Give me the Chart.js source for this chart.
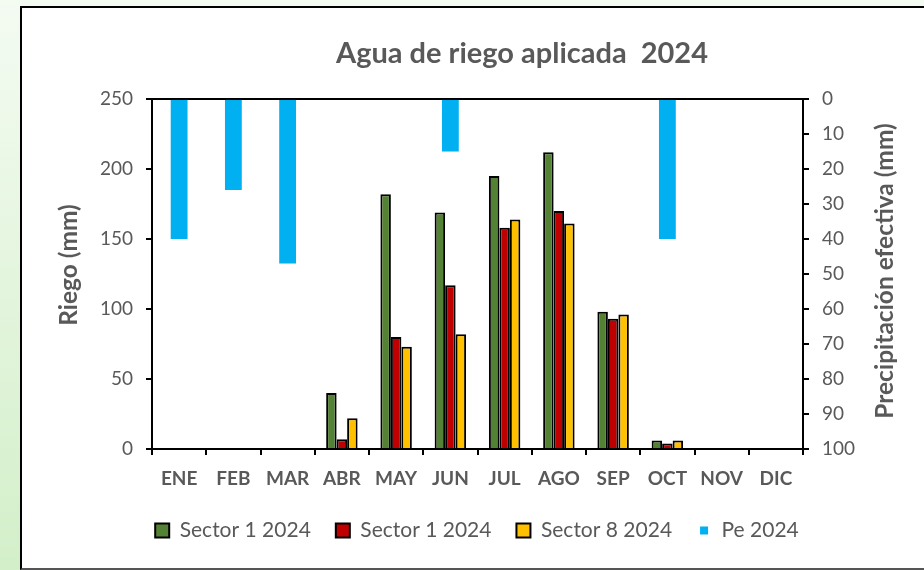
<!DOCTYPE html>
<html>
<head>
<meta charset="utf-8">
<title>Agua de riego aplicada 2024</title>
<script src="https://cdn.jsdelivr.net/npm/chart.js@4.4.1/dist/chart.umd.min.js"></script>
<style>
  html, body { margin: 0; padding: 0; }
  body {
    width: 924px; height: 570px; overflow: hidden; position: relative;
    background: linear-gradient(to bottom, #f4fbf2 0%, #d3efc9 100%);
  }
  #frame {
    position: absolute; left: 20px; top: 6px; width: 920px; height: 560px;
    background: #fff;
    border-left: 2px solid #000; border-top: 2px solid #000; border-bottom: 2px solid #555;
  }
  #wrap { position: absolute; left: 0; top: 0; width: 924px; height: 570px; }
</style>
</head>
<body>
<div id="frame"></div>
<div id="wrap"><canvas id="riego"></canvas></div>
<script>
// meses y valores (mm)
var meses = ['ENE', 'FEB', 'MAR', 'ABR', 'MAY', 'JUN', 'JUL', 'AGO', 'SEP', 'OCT', 'NOV', 'DIC'];
var sector1 = [null, null, null, 40, 182, 169, 195, 212, 98, 6, null, null];
var sector1b = [null, null, null, 7, 80, 117, 158, 170, 93, 4, null, null];
var sector8 = [null, null, null, 22, 73, 82, 164, 161, 96, 6, null, null];
var pe = [40, 26, 47, null, null, 15, null, null, null, 40, null, null];

var ticksRiego = [0, 50, 100, 150, 200, 250];
var ticksPe = [0, 10, 20, 30, 40, 50, 60, 70, 80, 90, 100];

var gris = '#595959';
var fuente = 'Lato';

// titulo, titulos de ejes y linea superior del area
var textos = {
  id: 'textos',
  afterDraw: function(chart) {
    var ctx = chart.ctx;
    var area = chart.chartArea;
    ctx.save();
    ctx.strokeStyle = '#000';
    ctx.lineWidth = 2;
    ctx.beginPath();
    ctx.moveTo(area.left, area.top);
    ctx.lineTo(area.right, area.top);
    ctx.stroke();

    ctx.fillStyle = gris;
    ctx.textAlign = 'center';
    ctx.textBaseline = 'alphabetic';
    ctx.font = 'bold 29px ' + fuente;
    ctx.fillText('Agua de riego aplicada  2024', 522, 63);

    ctx.textBaseline = 'middle';
    ctx.font = 'bold 24.5px ' + fuente;
    ctx.save();
    ctx.translate(69, 265);
    ctx.rotate(-Math.PI / 2);
    ctx.fillText('Riego (mm)', 0, 0);
    ctx.restore();

    ctx.save();
    ctx.translate(885, 271);
    ctx.rotate(-Math.PI / 2);
    ctx.fillText('Precipitación efectiva (mm)', 0, 0);
    ctx.restore();
    ctx.restore();
  }
};

var ejeGrid = {
  drawOnChartArea: false,
  drawTicks: true,
  tickLength: 6,
  color: '#000',
  lineWidth: 2
};

var canvas = document.getElementById('riego');
var chart = new Chart(canvas, {
  type: 'bar',
  data: {
    labels: meses,
    datasets: [
      {
        label: 'Sector 1 2024',
        data: sector1,
        backgroundColor: '#548235',
        borderColor: '#000',
        borderWidth: 2,
        categoryPercentage: 0.58,
        barPercentage: 1,
        yAxisID: 'y'
      },
      {
        label: 'Sector 1 2024',
        data: sector1b,
        backgroundColor: '#C00000',
        borderColor: '#000',
        borderWidth: 2,
        categoryPercentage: 0.58,
        barPercentage: 1,
        yAxisID: 'y'
      },
      {
        label: 'Sector 8 2024',
        data: sector8,
        backgroundColor: '#FFC000',
        borderColor: '#000',
        borderWidth: 2,
        categoryPercentage: 0.58,
        barPercentage: 1,
        yAxisID: 'y'
      },
      {
        label: 'Pe 2024',
        data: pe,
        backgroundColor: '#00B0F0',
        borderWidth: 0,
        grouped: false,
        categoryPercentage: 1,
        barPercentage: 0.31,
        yAxisID: 'y2'
      }
    ]
  },
  options: {
    responsive: true,
    maintainAspectRatio: false,
    animation: false,
    layout: {
      padding: { top: 99, left: 30, right: 0, bottom: 19 }
    },
    scales: {
      x: {
        grid: ejeGrid,
        border: { display: true, color: '#000', width: 2 },
        ticks: {
          color: gris,
          font: { family: fuente, size: 19, weight: 'bold' },
          padding: 12,
          autoSkip: false,
          maxRotation: 0
        },
        afterFit: function(scale) { scale.height = 46; }
      },
      y: {
        position: 'left',
        min: 0,
        max: 250,
        afterBuildTicks: function(scale) {
          scale.ticks = ticksRiego.map(function(v) { return { value: v }; });
        },
        grid: ejeGrid,
        border: { display: true, color: '#000', width: 2 },
        ticks: {
          color: gris,
          font: { family: fuente, size: 19 },
          padding: 13
        },
        afterFit: function(scale) { scale.width = 122; }
      },
      y2: {
        position: 'right',
        reverse: true,
        min: 0,
        max: 100,
        afterBuildTicks: function(scale) {
          scale.ticks = ticksPe.map(function(v) { return { value: v }; });
        },
        grid: ejeGrid,
        border: { display: true, color: '#000', width: 2 },
        ticks: {
          color: gris,
          font: { family: fuente, size: 19 },
          padding: 13
        },
        afterFit: function(scale) { scale.width = 121; }
      }
    },
    plugins: {
      title: { display: false },
      tooltip: { enabled: false },
      legend: {
        position: 'bottom',
        labels: {
          color: gris,
          font: { family: fuente, size: 21 },
          boxWidth: 14,
          boxHeight: 14,
          padding: 25,
          generateLabels: function(chart) {
            var items = Chart.defaults.plugins.legend.labels.generateLabels(chart);
            // cuadro mas chico para Pe
            items.forEach(function(it) {
              if (it.datasetIndex === 3) {
                it.strokeStyle = '#fff';
                it.lineWidth = 6;
              }
            });
            return items;
          }
        }
      }
    }
  },
  plugins: [textos]
});
</script>
</body>
</html>
